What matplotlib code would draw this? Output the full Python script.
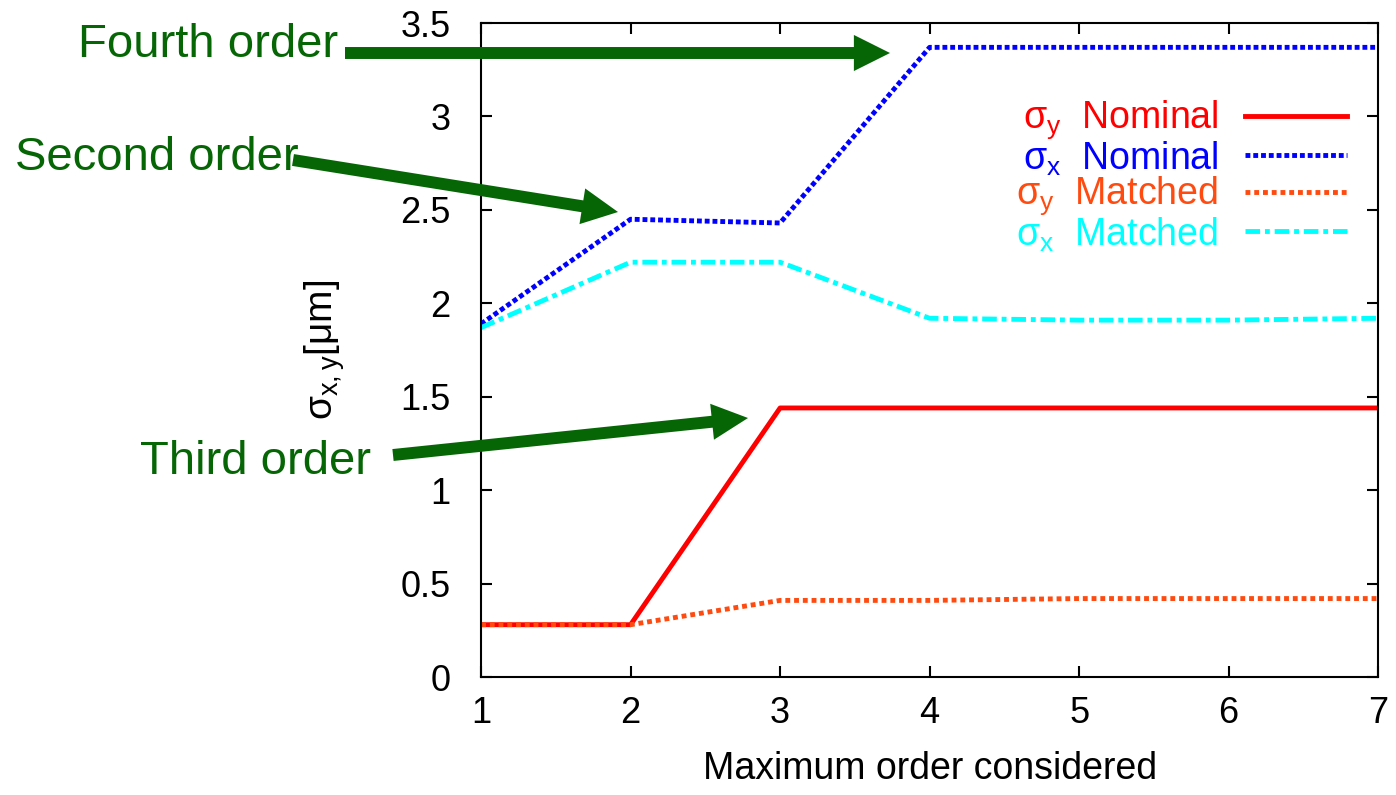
import matplotlib
matplotlib.use('Agg')
import matplotlib.pyplot as plt
from matplotlib.lines import Line2D

plt.rcParams['font.family'] = ['Liberation Sans', 'DejaVu Sans']
plt.rcParams['mathtext.fontset'] = 'custom'
plt.rcParams['mathtext.rm'] = 'Liberation Sans'
plt.rcParams['mathtext.it'] = 'Liberation Sans'

# beam size vs. maximum order of the map
order = [1, 2, 3, 4, 5, 6, 7]
sy_nominal = [0.28, 0.28, 1.44, 1.44, 1.44, 1.44, 1.44]
sx_nominal = [1.89, 2.45, 2.43, 3.37, 3.37, 3.37, 3.37]
sy_matched = [0.28, 0.28, 0.41, 0.41, 0.42, 0.42, 0.42]
sx_matched = [1.87, 2.22, 2.22, 1.92, 1.91, 1.91, 1.92]

labels = ['σ$_y$  Nominal', 'σ$_x$  Nominal', 'σ$_y$  Matched', 'σ$_x$  Matched']
colors = ['#ff0000', '#0000ff', '#ff4a10', '#00ffff']
styles = ['-', (0, (1, 0.6)), (0, (1, 0.8)), (0, (3, 1, 1, 1))]

fig = plt.figure(figsize=(13.96, 7.95), dpi=100)
ax = fig.add_axes([0.3446, 0.1484, 0.6426, 0.8226])

series = [sy_nominal, sx_nominal, sy_matched, sx_matched]
for vals, c, ls in zip(series, colors, styles):
    ax.plot(order, vals, color=c, linestyle=ls, lw=3.5, solid_capstyle='butt')

ax.set_xlim(1, 7)
ax.set_ylim(0, 3.5)
ax.set_xticks(order)
ax.set_yticks([0, 0.5, 1, 1.5, 2, 2.5, 3, 3.5])
ax.set_yticklabels(['0', '0.5', '1', '1.5', '2', '2.5', '3', '3.5'])
ax.tick_params(direction='in', length=8, width=1.5, top=True, right=True,
               labelsize=26)
ax.tick_params(axis='y', pad=22)
ax.tick_params(axis='x', pad=14)
for s in ax.spines.values():
    s.set_linewidth(1.5)

ax.set_xlabel('Maximum order considered', fontsize=27, labelpad=14)
ax.set_ylabel('σ$_{x,y}$[μm]', fontsize=28, labelpad=38)

# key: text on the left, line sample on the right
key_y = [0.852, 0.792, 0.736, 0.676]
for lab, c, ls, yy in zip(labels, colors, styles, key_y):
    ax.text(0.822, yy, lab, color=c, fontsize=27, ha='right', va='center',
            transform=ax.transAxes)
    ax.add_line(Line2D([0.852, 0.965], [yy + 0.006, yy + 0.006], color=c,
                       linestyle=ls, lw=3.5, transform=ax.transAxes))

# green callouts
green = '#066606'
W, H = 1396, 795
callouts = [
    ('Fourth order', (78, 45), (345, 53), (890, 53)),
    ('Second order', (15, 158), (293, 160), (618, 212)),
    ('Third order', (140, 462), (393, 455), (748, 418)),
]
for txt, (tx, ty), (ax0, ay0), (ax1, ay1) in callouts:
    fig.text(tx / W, 1 - ty / H, txt, color=green, fontsize=34,
             ha='left', va='center')
    ax.annotate('', xy=(ax1 / W, 1 - ay1 / H), xytext=(ax0 / W, 1 - ay0 / H),
                xycoords='figure fraction', textcoords='figure fraction',
                annotation_clip=False,
                arrowprops=dict(arrowstyle='simple,head_length=2.6,head_width=2.6,tail_width=0.86',
                                mutation_scale=10, color=green, shrinkA=0, shrinkB=0, lw=0))

fig.savefig('out.png', dpi=100)
